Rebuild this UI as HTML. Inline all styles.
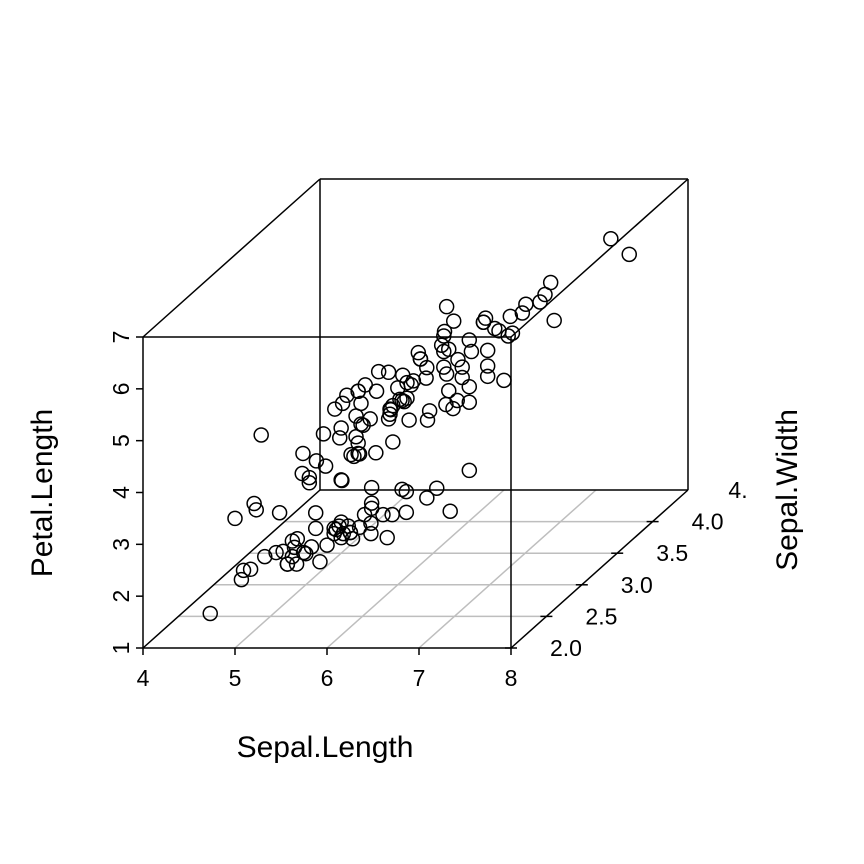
<!DOCTYPE html>
<html><head><meta charset="utf-8"><style>
html,body{margin:0;padding:0;background:#fff;}
svg{display:block;font-family:"Liberation Sans",Arial,sans-serif;}
</style></head><body>
<svg id="chart" width="864" height="864" viewBox="0 0 864 864">
<rect width="864" height="864" fill="#fff"/>
<g id="grid"></g>
<g id="box"></g>
<g id="ticks"></g>
<g id="pts"></g>
<text x="325" y="757" font-size="30" text-anchor="middle">Sepal.Length</text>
<text transform="translate(52,493) rotate(-90)" font-size="30" text-anchor="middle">Petal.Length</text>
<text transform="translate(797,490) rotate(-90)" font-size="30" text-anchor="middle">Sepal.Width</text>
</svg>
<script>
const sepalLength=[5.1,4.9,4.7,4.6,5.0,5.4,4.6,5.0,4.4,4.9,5.4,4.8,4.8,4.3,5.8,5.7,5.4,5.1,5.7,5.1,5.4,5.1,4.6,5.1,4.8,5.0,5.0,5.2,5.2,4.7,4.8,5.4,5.2,5.5,4.9,5.0,5.5,4.9,4.4,5.1,5.0,4.5,4.4,5.0,5.1,4.8,5.1,4.6,5.3,5.0,
7.0,6.4,6.9,5.5,6.5,5.7,6.3,4.9,6.6,5.2,5.0,5.9,6.0,6.1,5.6,6.7,5.6,5.8,6.2,5.6,5.9,6.1,6.3,6.1,6.4,6.6,6.8,6.7,6.0,5.7,5.5,5.5,5.8,6.0,5.4,6.0,6.7,6.3,5.6,5.5,5.5,6.1,5.8,5.0,5.6,5.7,5.7,6.2,5.1,5.7,
6.3,5.8,7.1,6.3,6.5,7.6,4.9,7.3,6.7,7.2,6.5,6.4,6.8,5.7,5.8,6.4,6.5,7.7,7.7,6.0,6.9,5.6,7.7,6.3,6.7,7.2,6.2,6.1,6.4,7.2,7.4,7.9,6.4,6.3,6.1,7.7,6.3,6.4,6.0,6.9,6.7,6.9,5.8,6.8,6.7,6.7,6.3,6.5,6.2,5.9];
const sepalWidth=[3.5,3.0,3.2,3.1,3.6,3.9,3.4,3.4,2.9,3.1,3.7,3.4,3.0,3.0,4.0,4.4,3.9,3.5,3.8,3.8,3.4,3.7,3.6,3.3,3.4,3.0,3.4,3.5,3.4,3.2,3.1,3.4,4.1,4.2,3.1,3.2,3.5,3.6,3.0,3.4,3.5,2.3,3.2,3.5,3.8,3.0,3.8,3.2,3.7,3.3,
3.2,3.2,3.1,2.3,2.8,2.8,3.3,2.4,2.9,2.7,2.0,3.0,2.2,2.9,2.9,3.1,3.0,2.7,2.2,2.5,3.2,2.8,2.5,2.8,2.9,3.0,2.8,3.0,2.9,2.6,2.4,2.4,2.7,2.7,3.0,3.4,3.1,2.3,3.0,2.5,2.6,3.0,2.6,2.3,2.7,3.0,2.9,2.9,2.5,2.8,
3.3,2.7,3.0,2.9,3.0,3.0,2.5,2.9,2.5,3.6,3.2,2.7,3.0,2.5,2.8,3.2,3.0,3.8,2.6,2.2,3.2,2.8,2.8,2.7,3.3,3.2,2.8,3.0,2.8,3.0,2.8,3.8,2.8,2.8,2.6,3.0,3.4,3.1,3.0,3.1,3.1,3.1,2.7,3.2,3.3,3.0,2.5,3.0,3.4,3.0];
const petalLength=[1.4,1.4,1.3,1.5,1.4,1.7,1.4,1.5,1.4,1.5,1.5,1.6,1.4,1.1,1.2,1.5,1.3,1.4,1.7,1.5,1.7,1.5,1.0,1.7,1.9,1.6,1.6,1.5,1.4,1.6,1.6,1.5,1.5,1.4,1.5,1.2,1.3,1.4,1.3,1.5,1.3,1.3,1.3,1.6,1.9,1.4,1.6,1.4,1.5,1.4,
4.7,4.5,4.9,4.0,4.6,4.5,4.7,3.3,4.6,3.9,3.5,4.2,4.0,4.7,3.6,4.4,4.5,4.1,4.5,3.9,4.8,4.0,4.9,4.7,4.3,4.4,4.8,5.0,4.5,3.5,3.8,3.7,3.9,5.1,4.5,4.5,4.7,4.4,4.1,4.0,4.4,4.6,4.0,3.3,4.2,4.2,4.2,4.3,3.0,4.1,
6.0,5.1,5.9,5.6,5.8,6.6,4.5,6.3,5.8,6.1,5.1,5.3,5.5,5.0,5.1,5.3,5.5,6.7,6.9,5.0,5.7,4.9,6.7,4.9,5.7,6.0,4.8,4.9,5.6,5.8,6.1,6.4,5.6,5.1,5.6,6.1,5.6,5.5,4.8,5.4,5.6,5.1,5.1,5.9,5.7,5.2,5.0,5.2,5.4,5.1];
const xTicks=[4,5,6,7,8];
const yTicks=[2.0,2.5,3.0,3.5,4.0];
const yTickLabels=["2.0","2.5","3.0","3.5","4.0"];
const zTicks=[1,2,3,4,5,6,7];

const NS="http://www.w3.org/2000/svg";
const X0=143,X1=511,XMIN=4,XMAX=8;
const ZB=648,ZT=337,ZMIN=1,ZMAX=7;
const YMIN=2.0,YMAX=4.5,DX=177,DY=-158;
function px(x,y,z){
  const d=(y-YMIN)/(YMAX-YMIN);
  return [X0+(x-XMIN)/(XMAX-XMIN)*(X1-X0)+d*DX, ZB-(z-ZMIN)/(ZMAX-ZMIN)*(ZB-ZT)+d*DY];
}
function line(g,a,b,stroke,w){
  const l=document.createElementNS(NS,"line");
  l.setAttribute("x1",a[0]);l.setAttribute("y1",a[1]);l.setAttribute("x2",b[0]);l.setAttribute("y2",b[1]);
  l.setAttribute("stroke",stroke);l.setAttribute("stroke-width",w);
  
  
  g.appendChild(l);return l;
}
function text(g,x,y,s,anchor,rot){
  const t=document.createElementNS(NS,"text");
  if(rot){t.setAttribute("transform",`translate(${x},${y}) rotate(-90)`);}
  else{t.setAttribute("x",x);t.setAttribute("y",y);}
  t.setAttribute("font-size","23");t.setAttribute("text-anchor",anchor);
  t.textContent=s;
  
  
  g.appendChild(t);return t;
}
const grid=document.getElementById("grid"),box=document.getElementById("box"),tk=document.getElementById("ticks"),pts=document.getElementById("pts");
yTicks.slice(1).forEach(y=>line(grid,px(XMIN,y,ZMIN),px(XMAX,y,ZMIN),"#bebebe",1.5));
xTicks.slice(1,-1).forEach(x=>line(grid,px(x,YMIN,ZMIN),px(x,YMAX,ZMIN),"#bebebe",1.5));
const C=(x,y,z)=>px(x,y,z);
[[C(4,2,1),C(8,2,1)],[C(4,2,1),C(4,2,7)],[C(8,2,1),C(8,2,7)],[C(4,2,7),C(8,2,7)],
 [C(4,4.5,1),C(8,4.5,1)],[C(4,4.5,1),C(4,4.5,7)],[C(8,4.5,1),C(8,4.5,7)],[C(4,4.5,7),C(8,4.5,7)],
 [C(4,2,1),C(4,4.5,1)],[C(8,2,1),C(8,4.5,1)],[C(4,2,7),C(4,4.5,7)],[C(8,2,7),C(8,4.5,7)]]
 .forEach(s=>line(box,s[0],s[1],"#000",1.5));
xTicks.forEach(x=>{const p=px(x,YMIN,ZMIN);line(tk,p,[p[0],p[1]+7],"#000",1.5);text(tk,p[0],p[1]+38,String(x),"middle");});
zTicks.forEach(z=>{const p=px(XMIN,YMIN,z);line(tk,p,[p[0]-7,p[1]],"#000",1.5);text(tk,p[0]-14,p[1],String(z),"middle",true);});
yTicks.forEach((y,i)=>{const p=px(XMAX,y,ZMIN);line(tk,[p[0]-6,p[1]],[p[0]+6,p[1]],"#000",1.5);text(tk,p[0]+55,p[1]+8,yTickLabels[i],"middle");});
{const p=px(XMAX,YMAX,ZMIN);text(tk,p[0]+50,p[1]+8,"4.","middle");}
for(let i=0;i<sepalLength.length;i++){
  const p=px(sepalLength[i],sepalWidth[i],petalLength[i]);
  const c=document.createElementNS(NS,"circle");
  c.setAttribute("cx",p[0]);c.setAttribute("cy",p[1]);c.setAttribute("r",7);
  c.setAttribute("fill","none");c.setAttribute("stroke","#000");c.setAttribute("stroke-width",1.5);
  
  
  pts.appendChild(c);
}
</script>
</body></html>
